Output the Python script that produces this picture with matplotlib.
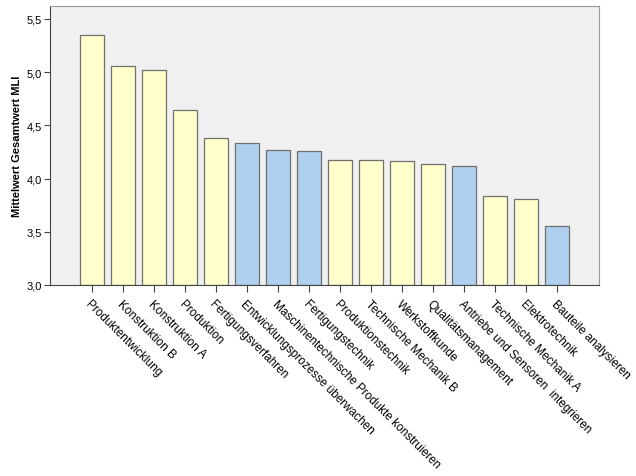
import matplotlib
matplotlib.use("Agg")
import matplotlib.pyplot as plt
from matplotlib.ticker import FuncFormatter

plt.rcParams['font.family'] = ['Liberation Sans', 'DejaVu Sans']

categories = ["Produktentwicklung", "Konstruktion B", "Konstruktion A", "Produktion",
              "Fertigungsverfahren", "Entwicklungsprozesse überwachen",
              "Maschinentechnische Produkte konstruieren", "Fertigungstechnik",
              "Produktionstechnik", "Technische Mechanik B", "Werkstoffkunde",
              "Qualitätsmanagement", "Antriebe und Sensoren  integrieren",
              "Technische Mechanik A", "Elektrotechnik", "Bauteile analysieren"]
values = [5.35, 5.06, 5.02, 4.645, 4.38, 4.335, 4.265, 4.255, 4.175, 4.17, 4.16,
          4.135, 4.115, 3.84, 3.81, 3.555]
group = ["y", "y", "y", "y", "y", "b", "b", "b", "y", "y", "y", "y", "b", "y", "y", "b"]

colors = {"y": "#FFFFCC", "b": "#AFD0EE"}

fig = plt.figure(figsize=(6.36, 4.77), dpi=100)
ax = fig.add_axes([50/636, 1-286/477, 549/636, 279/477])
ax.set_facecolor("#F0F0F0")
x = list(range(len(categories)))
ax.bar(x, [v - 3.0 for v in values], bottom=3.0, width=0.75,
       color=[colors[g] for g in group], edgecolor="#707070", linewidth=0.9, zorder=2)
ax.set_xlim(-1.35, len(categories) - 1 + 1.35)
ax.set_ylim(3.0, 5.62)
ax.set_yticks([3.0, 3.5, 4.0, 4.5, 5.0, 5.5])
ax.yaxis.set_major_formatter(FuncFormatter(lambda v, p: f"{v:.1f}".replace(".", ",")))
ax.set_xticks(x)
ax.set_xticklabels(categories, rotation=-45, ha="left", va="top",
                   rotation_mode="anchor", fontsize=8.5)
ax.tick_params(axis="y", labelsize=8, length=4, color="#444444", pad=2)
ax.tick_params(axis="x", length=5, color="#444444", pad=4)
for s in ["left", "bottom"]:
    ax.spines[s].set_color("#444444")
for s in ["top", "right"]:
    ax.spines[s].set_color("#999999")
ax.set_ylabel("Mittelwert Gesamtwert MLI", fontsize=8, fontweight="bold", labelpad=3)
fig.savefig("out.png", dpi=100)
